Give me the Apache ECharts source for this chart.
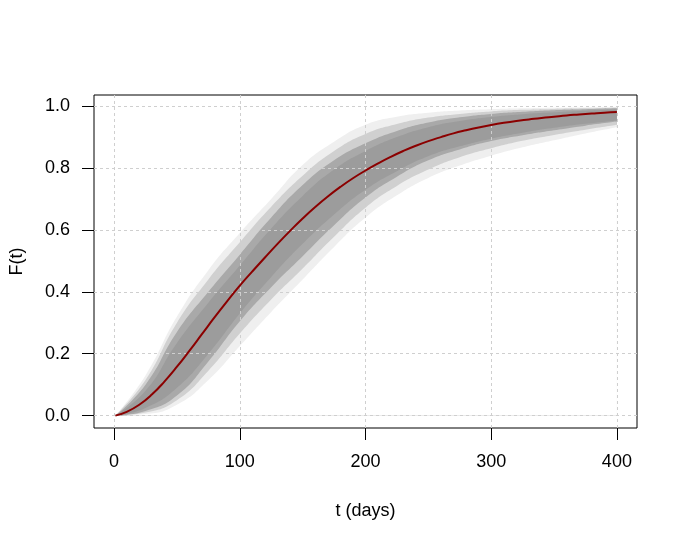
<!DOCTYPE html>
<html>
<head>
<meta charset="utf-8">
<script src="https://cdn.jsdelivr.net/npm/echarts@6/dist/echarts.min.js"></script>
<style>
  html, body { margin: 0; padding: 0; background: #fff; }
  #chart { width: 686px; height: 546px; }
</style>
</head>
<body>
<div id="chart"></div>
<script>
// fitted curve (dark red)
const tFit = [1,10,20,30,40,50,60,70,80,90,100,110,120,130,140,150,160,170,180,190,200,
              210,220,230,240,250,260,270,280,290,300,310,320,330,340,350,360,370,380,390,400];
const fFit = [0,0.012,0.035,0.068,0.11,0.158,0.21,0.264,0.318,0.37,0.42,0.466,0.511,0.555,0.597,0.637,0.674,0.708,0.739,0.767,0.792,
              0.815,0.836,0.855,0.872,0.887,0.9,0.912,0.922,0.931,0.939,0.946,0.952,0.957,0.962,0.966,0.97,0.973,0.976,0.979,0.981];

// envelope of the grey resampled curves, outer (faint) to inner (core)
const tBand   = [1,25,50,75,100,125,150,175,200,225,250,275,300,325,350,375,400];
const faintHi = [0,0.13,0.32,0.47,0.59,0.7,0.81,0.885,0.94,0.966,0.979,0.986,0.99,0.993,0.995,0.996,0.997];
const lightHi = [0,0.115,0.3,0.44,0.56,0.675,0.775,0.855,0.91,0.942,0.963,0.975,0.983,0.988,0.991,0.993,0.995];
const denseHi = [0,0.1,0.27,0.4,0.52,0.64,0.745,0.825,0.88,0.92,0.947,0.964,0.975,0.982,0.987,0.99,0.993];
const coreHi  = [0,0.08,0.235,0.365,0.485,0.605,0.71,0.795,0.855,0.9,0.932,0.952,0.965,0.974,0.98,0.985,0.989];
const coreLo  = [0,0.025,0.09,0.2,0.33,0.448,0.555,0.65,0.73,0.79,0.838,0.87,0.895,0.914,0.93,0.943,0.954];
const denseLo = [0,0.015,0.065,0.175,0.305,0.415,0.515,0.615,0.705,0.772,0.825,0.86,0.887,0.906,0.922,0.937,0.95];
const lightLo = [0,0.01,0.05,0.145,0.265,0.375,0.475,0.578,0.672,0.742,0.795,0.835,0.864,0.888,0.907,0.924,0.94];
const faintLo = [0,0.005,0.035,0.115,0.225,0.335,0.44,0.545,0.64,0.712,0.768,0.808,0.84,0.867,0.89,0.912,0.932];

const xTicks = [0,100,200,300,400];
const yTicks = [0,0.2,0.4,0.6,0.8,1.0];

function pairs(xs, ys){ return xs.map((x,i)=>[x, ys[i]]); }

// each band fills down to zero; later ones paint over earlier ones
function band(name, ys, color){
  return {
    name: name, type: 'line', data: pairs(tBand, ys), smooth: true,
    symbol: 'none', silent: true, z: 2,
    lineStyle: { width: 0 },
    areaStyle: { color: color, opacity: 1, origin: 'auto' }
  };
}

const FONT = 'Liberation Sans, Arial, sans-serif';
const gridLine = { show: true, lineStyle: { color: '#cfcfcf', type: [3,3], width: 1 } };

const chart = echarts.init(document.getElementById('chart'));
chart.setOption({
  animation: false,
  backgroundColor: '#fff',
  grid: { left: 94, right: 49, top: 95, bottom: 118, show: true,
          borderColor: '#000', borderWidth: 1, backgroundColor: '#fff' },
  xAxis: {
    type: 'value', min: -16, max: 416, z: 3,
    name: 't (days)', nameLocation: 'middle', nameGap: 74,
    nameTextStyle: { color: '#000', fontSize: 18, fontFamily: FONT },
    axisLine: { show: false, onZero: false },
    axisTick: { show: true, length: 12, customValues: xTicks, lineStyle: { color: '#000' } },
    axisLabel: { customValues: xTicks, margin: 25, color: '#000', fontSize: 18, fontFamily: FONT },
    splitLine: gridLine
  },
  yAxis: {
    type: 'value', min: -0.04, max: 1.036, z: 3,
    name: 'F(t)', nameLocation: 'middle', nameGap: 68, nameRotate: 90,
    nameTextStyle: { color: '#000', fontSize: 18, fontFamily: FONT },
    axisLine: { show: false, onZero: false },
    axisTick: { show: true, length: 12, customValues: yTicks, lineStyle: { color: '#000' } },
    axisLabel: { customValues: yTicks, margin: 24, color: '#000', fontSize: 18, fontFamily: FONT,
                 formatter: v => Number(v).toFixed(1) },
    splitLine: gridLine
  },
  series: [
    band('faintHi', faintHi, '#efefef'),
    band('lightHi', lightHi, '#d0d0d0'),
    band('denseHi', denseHi, '#a9a9a9'),
    band('coreHi',  coreHi,  '#9c9c9c'),
    band('coreLo',  coreLo,  '#a9a9a9'),
    band('denseLo', denseLo, '#d0d0d0'),
    band('lightLo', lightLo, '#efefef'),
    band('faintLo', faintLo, '#ffffff'),
    { name: 'F(t)', type: 'line', data: pairs(tFit, fFit), smooth: true, symbol: 'none', z: 4,
      lineStyle: { color: '#8b0000', width: 2 } }
  ]
});
</script>
</body>
</html>
